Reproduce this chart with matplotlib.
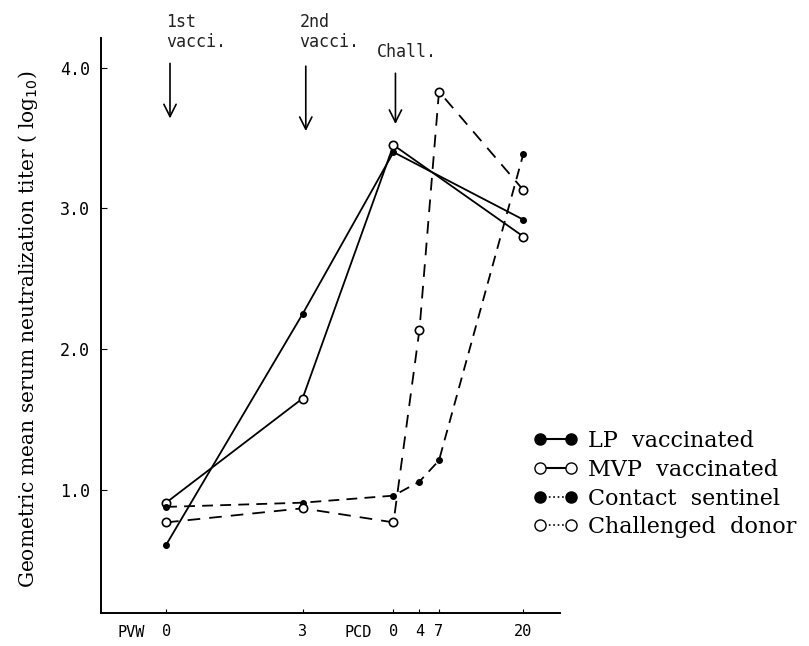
import matplotlib.pyplot as plt
from matplotlib.lines import Line2D

# x in days: PVW weeks 0, 3 -> day 0, 21 ; challenge (PCD 0) at day 35
tick_pos = [0, 21, 35, 39, 42, 55]
tick_lab = ["0", "3", "0", "4", "7", "20"]

vacc_days = [0, 21, 35, 55]
lp_vacc = [0.61, 2.25, 3.40, 2.92]
mvp_vacc = [0.91, 1.65, 3.45, 2.80]

chall_days = [0, 21, 35, 39, 42, 55]
sentinel = [0.88, 0.91, 0.96, 1.06, 1.21, 3.39]
donor = [0.77, 0.87, 0.77, 2.14, 3.83, 3.13]

events = ["1st\nvacci.", "2nd\nvacci.", "Chall."]
event_days = [0.6, 21.5, 35.3]

serif = "DejaVu Serif"
mono = "DejaVu Sans Mono"

fig = plt.figure(figsize=(8.09, 6.46), dpi=100)
ax = fig.add_axes([0.125, 0.051, 0.567, 0.890])

ax.plot(vacc_days, lp_vacc, "-", color="black", lw=1.3, marker="o", ms=4,
        mfc="black", mec="black")
ax.plot(vacc_days, mvp_vacc, "-", color="black", lw=1.3, marker="o", ms=6,
        mfc="white", mec="black", mew=1.2)
ax.plot(chall_days, sentinel, color="black", lw=1.3, dashes=(6, 4), marker="o",
        ms=4, mfc="black", mec="black")
ax.plot(chall_days, donor, color="black", lw=1.3, dashes=(7, 5), marker="o",
        ms=6, mfc="white", mec="black", mew=1.2)

# event arrows
arrow_tops = [4.05, 4.03, 3.98]
arrow_ends = [3.62, 3.53, 3.58]
for d, top, end in zip(event_days, arrow_tops, arrow_ends):
    ax.annotate("", xy=(d, end), xytext=(d, top),
                arrowprops=dict(arrowstyle="->", lw=1.2, color="black",
                                mutation_scale=22))
text_y = [4.12, 4.12, 4.05]
text_x = [0.0, 20.5, 32.5]
for x, y, name in zip(text_x, text_y, events):
    ax.text(x, y, name, fontsize=12, family=mono, ha="left", va="bottom",
            linespacing=1.1, clip_on=False, color="#222222")

ax.set_xlim(-10, 60.6)
ax.set_ylim(0.126, 4.21)
ax.spines["top"].set_visible(False)
ax.spines["right"].set_visible(False)
ax.spines["left"].set_linewidth(1.4)
ax.spines["bottom"].set_linewidth(1.4)

ax.set_xticks(tick_pos)
ax.set_xticklabels(tick_lab, family=mono, fontsize=11)
ax.tick_params(axis="x", direction="in", length=3, pad=8)
ax.set_yticks([1, 2, 3, 4])
ax.set_yticklabels(["1.0", "2.0", "3.0", "4.0"], family=mono, fontsize=12)
ax.tick_params(axis="y", direction="in", length=4, pad=8)

xtr = ax.get_xaxis_transform()
ax.text(-5.3, -0.033, "PVW", fontsize=11, family=mono, ha="center",
        va="center", transform=xtr, clip_on=False)
ax.text(29.5, -0.033, "PCD", fontsize=11, family=mono, ha="center",
        va="center", transform=xtr, clip_on=False)

fig.text(0.035, 0.49, "Geometric mean serum neutralization titer ( log$_{10}$)",
         rotation=90, ha="center", va="center", fontsize=14.5, family=serif)

handles = [
    Line2D([], [], color="black", lw=1.5, marker="o", ms=8, mfc="black"),
    Line2D([], [], color="black", lw=1.5, marker="o", ms=8, mfc="white"),
    Line2D([], [], color="black", lw=1.2, ls=":", marker="o", ms=8, mfc="black"),
    Line2D([], [], color="black", lw=1.2, ls=":", marker="o", ms=8, mfc="white"),
]
labels = ["LP  vaccinated", "MVP  vaccinated", "Contact  sentinel",
          "Challenged  donor"]
fig.legend(handles, labels, loc="upper left", bbox_to_anchor=(0.634, 0.365),
           frameon=False, numpoints=2, handlelength=2.0, handletextpad=0.5,
           labelspacing=0.3, prop={"family": serif, "size": 16})

fig.savefig("out.png", dpi=100)
